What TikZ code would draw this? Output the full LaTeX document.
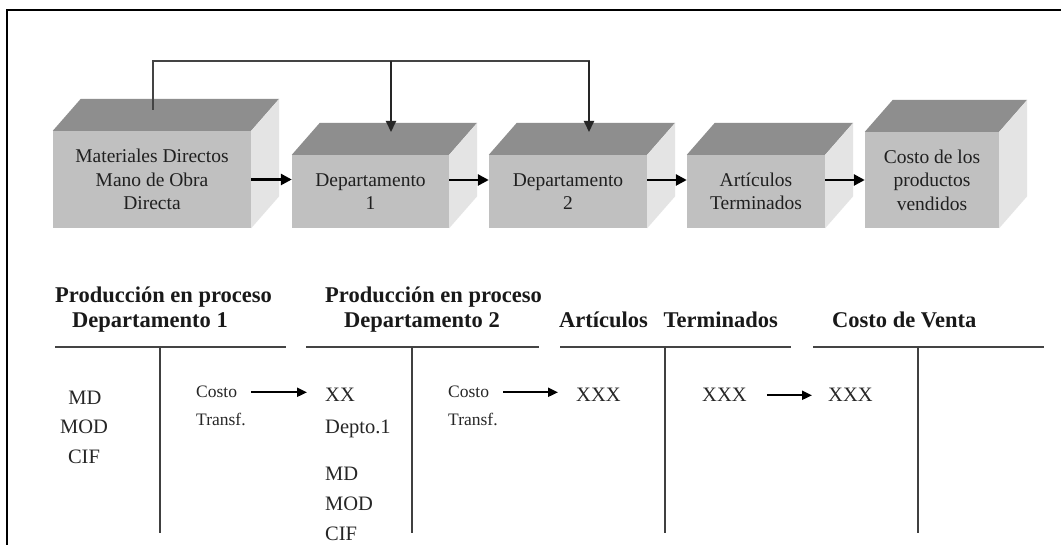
\documentclass[tikz,border=0pt]{standalone}
\usepackage{fontspec}
\setmainfont{Liberation Serif}
\usetikzlibrary{arrows.meta,calc}
\definecolor{frontc}{HTML}{C0C0C0}
\definecolor{topc}{HTML}{8E8E8E}
\definecolor{sidec}{HTML}{E4E4E4}
\definecolor{txtc}{HTML}{202020}
\definecolor{linec}{HTML}{444444}
\tikzset{
  front/.style={fill=frontc, inner sep=0pt, align=center, text=txtc,
    font=\fontsize{19.5}{23.5}\selectfont},
  topface/.style={fill=topc},
  sideface/.style={fill=sidec},
  conn/.style={draw=linec, line width=2pt},
  connarr/.style={conn, -{Triangle[length=11pt,width=10pt]}, draw=black!85, line width=2pt},
  boxarr/.style={draw=black, line width=2.6pt, -{Triangle[length=11pt,width=11pt]}},
  tarr/.style={draw=black, line width=2pt, -{Triangle[length=10pt,width=9pt]}},
  head/.style={inner sep=0pt, anchor=base west, text=black!90, font=\fontsize{22.5}{26}\selectfont\bfseries},
  entry/.style={inner sep=0pt, text=black!85, font=\fontsize{20.5}{24}\selectfont},
  smallentry/.style={inner sep=0pt, anchor=base west, text=black!85, font=\fontsize{17.5}{20}\selectfont},
  hline/.style={draw=linec, line width=2pt},
  vline/.style={draw=black!75, line width=1.5pt},
  frame/.style={draw=black, line width=2.4pt}
}
\newcommand{\cubefaces}[1]{%
  \fill[topface] (#1.north west) -- ([shift={(28,-32)}]#1.north west) -- ([shift={(28,-32)}]#1.north east) -- (#1.north east) -- cycle;
  \fill[sideface] (#1.north east) -- ([shift={(28,-32)}]#1.north east) -- ([shift={(28,-32)}]#1.south east) -- (#1.south east) -- cycle;
}
\begin{document}
\begin{tikzpicture}[x=1pt,y=-1pt]
\useasboundingbox (0,0) rectangle (1061,545);
\fill[white] (0,0) rectangle (1061,545);
% frame
\draw[frame] (7,546) -- (7,10) -- (1062,10);

% boxes
\node[front, minimum width=198pt, minimum height=97pt] (b1) at (152,179.5) {Materiales Directos\\Mano de Obra\\Directa};
\node[front, minimum width=157pt, minimum height=73pt] (b2) at (370.5,191.5) {Departamento\\1};
\node[front, minimum width=158pt, minimum height=73pt] (b3) at (568,191.5) {Departamento\\2};
\node[front, minimum width=138pt, minimum height=73pt] (b4) at (756,191.5) {Artículos\\Terminados};
\node[front, minimum width=134pt, minimum height=96pt] (b5) at (932,180) {Costo de los\\productos\\vendidos};
\cubefaces{b1}
\cubefaces{b2}
\cubefaces{b3}
\cubefaces{b4}
\cubefaces{b5}

% top connector
\coordinate (t1) at (153,110);
\coordinate (j1) at (153,61);
\coordinate (j2) at (391,61);
\coordinate (j3) at (589,61);
\coordinate (d1) at (391,132);
\coordinate (d2) at (589,132);
\draw[conn, line join=miter] (t1) -- (j1) -- (j3) -- ([yshift=10pt]d2);
\draw[connarr] (j3) -- (d2);
\draw[connarr] (j2) -- (d1);

% box arrows
\draw[boxarr] (b1.east) -- (b1.east -| b2.west);
\draw[boxarr] ([yshift=11.5pt]b2.east) -- ([yshift=11.5pt]b3.west);
\draw[boxarr] ([yshift=11.5pt]b3.east) -- ([yshift=11.5pt]b4.west);
\draw[boxarr] ([yshift=11.5pt]b4.east) -- (b5.west);

% T-account 1
\node[head] (h1a) at (55,303) {Producción en proceso};
\node[head] (h1b) at (72,328) {Departamento 1};
\coordinate (l1a) at (55,347); \coordinate (l1b) at (286,347);
\coordinate (v1a) at (160,347); \coordinate (v1b) at (160,533);
\draw[hline] (l1a) -- (l1b);
\draw[vline] (v1a) -- (v1b);
\node[entry, anchor=base] (md1) at (85,405) {MD};
\node[entry, anchor=base] (mod1) at (84,434) {MOD};
\node[entry, anchor=base] (cif1) at (84,463) {CIF};
\node[smallentry] (co1) at (196,398) {Costo};
\node[smallentry] (tr1) at (196,425) {Transf.};

% T-account 2
\node[head] (h2a) at (325,303) {Producción en proceso};
\node[head] (h2b) at (344,328) {Departamento 2};
\coordinate (l2a) at (306,347); \coordinate (l2b) at (539,347);
\coordinate (v2a) at (412,347); \coordinate (v2b) at (412,533);
\draw[hline] (l2a) -- (l2b);
\draw[vline] (v2a) -- (v2b);
\node[entry, anchor=base west] (xx2) at (325,402) {XX};
\node[entry, anchor=base west] (dep2) at (325,433) {Depto.1};
\node[entry, anchor=base west] (md2) at (325,480) {MD};
\node[entry, anchor=base west] (mod2) at (325,510) {MOD};
\node[entry, anchor=base west] (cif2) at (325,540) {CIF};
\node[smallentry] (co2) at (448,398) {Costo};
\node[smallentry] (tr2) at (448,425) {Transf.};

% T-account 3
\node[head] (h3) at (559,328) {Artículos\hspace{0.7em}Terminados};
\coordinate (l3a) at (560,347); \coordinate (l3b) at (791,347);
\coordinate (v3a) at (665,347); \coordinate (v3b) at (665,533);
\draw[hline] (l3a) -- (l3b);
\draw[vline] (v3a) -- (v3b);
\node[entry, anchor=base west] (x3a) at (576,402) {XXX};
\node[entry, anchor=base west] (x3b) at (702,402) {XXX};

% T-account 4
\node[head] (h4) at (832,328) {Costo de Venta};
\coordinate (l4a) at (813,347); \coordinate (l4b) at (1044,347);
\coordinate (v4a) at (918,347); \coordinate (v4b) at (918,533);
\draw[hline] (l4a) -- (l4b);
\draw[vline] (v4a) -- (v4b);
\node[entry, anchor=base west] (x4) at (828,402) {XXX};

% T arrows
\draw[tarr, shorten <=14pt, shorten >=18pt] (co1.east) -- (co1.east -| xx2.west);
\draw[tarr, shorten <=14pt, shorten >=18pt] (co2.east) -- (co2.east -| x3a.west);
\draw[tarr, shorten <=20pt, shorten >=16pt] (x3b.east) -- (x3b.east -| x4.west);
\end{tikzpicture}
\end{document}
